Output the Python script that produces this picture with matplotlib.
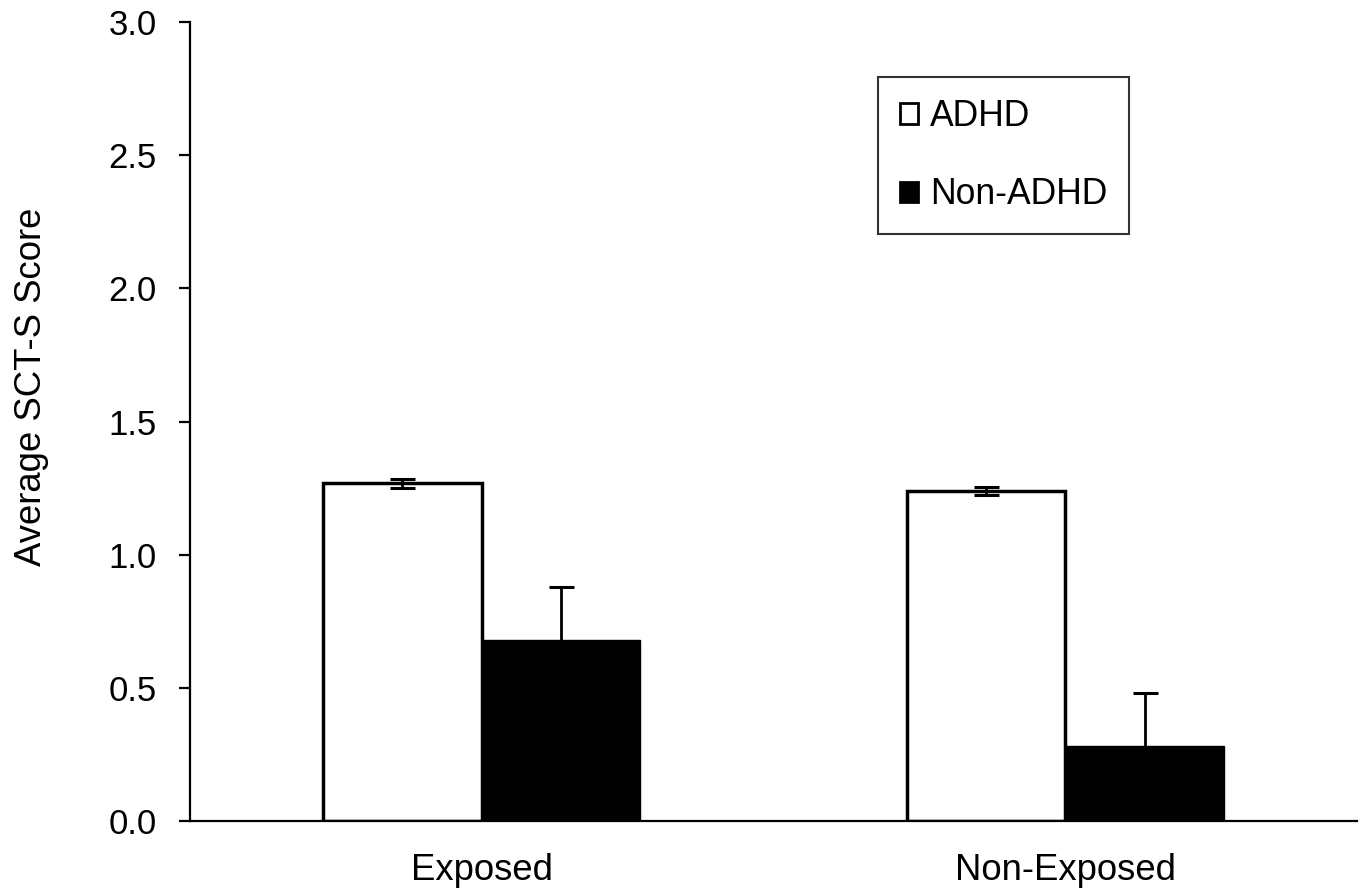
import matplotlib
matplotlib.use("Agg")
import matplotlib.pyplot as plt
import numpy as np

plt.rcParams['font.family'] = ['Liberation Sans', 'DejaVu Sans']

categories = ["Exposed", "Non-Exposed"]
series_names = ["ADHD", "Non-ADHD"]
adhd_values = [1.268, 1.238]
adhd_err = [0.017, 0.015]
nonadhd_values = [0.68, 0.28]
nonadhd_err = [0.20, 0.20]
yticks = [0.0, 0.5, 1.0, 1.5, 2.0, 2.5, 3.0]

fig = plt.figure(figsize=(13.68, 8.92), dpi=100)
ax = fig.add_axes([190/1368, 1-821/892, (1357-190)/1368, (821-22)/892])

x = np.arange(len(categories))
w = 0.272
ekw = dict(elinewidth=2, capthick=2.2, ecolor='black')
ax.bar(x - w/2, adhd_values, w, color='white', edgecolor='black', linewidth=2.5,
       yerr=adhd_err, capsize=9, error_kw=ekw, label=series_names[0], zorder=2)
ax.bar(x + w/2, nonadhd_values, w, color='black', edgecolor='black', linewidth=1,
       yerr=nonadhd_err, capsize=9, error_kw=ekw, label=series_names[1], zorder=2)

ax.set_xlim(-0.5, 1.5)
ax.set_ylim(0, 3.0)
ax.set_yticks(yticks)
ax.set_yticklabels([f"{t:.1f}" for t in yticks], fontsize=25)
ax.set_xticks(x)
ax.set_xticklabels(categories, fontsize=26.3)
ax.tick_params(axis='x', length=0, pad=23)
ax.tick_params(axis='y', direction='out', length=8, width=1.6, pad=16)
for s in ['top', 'right']:
    ax.spines[s].set_visible(False)
for s in ['left', 'bottom']:
    ax.spines[s].set_linewidth(1.6)
fig.text(14/1368, 1-386.5/892, "Average SCT-S Score", fontsize=26.3, rotation=90,
         ha='left', va='center')

leg = ax.legend(loc='upper left', bbox_to_anchor=((878-190)/1167, (821-77)/799),
                fontsize=25.6, frameon=True, fancybox=False, edgecolor='black',
                handlelength=0.5, handleheight=0.5, handletextpad=0.34,
                labelspacing=1.22, borderpad=0.62, borderaxespad=0)
leg.get_frame().set_linewidth(1.5)
for h in leg.legend_handles:
    h.set_linewidth(2)

fig.savefig("out.png", dpi=100)
